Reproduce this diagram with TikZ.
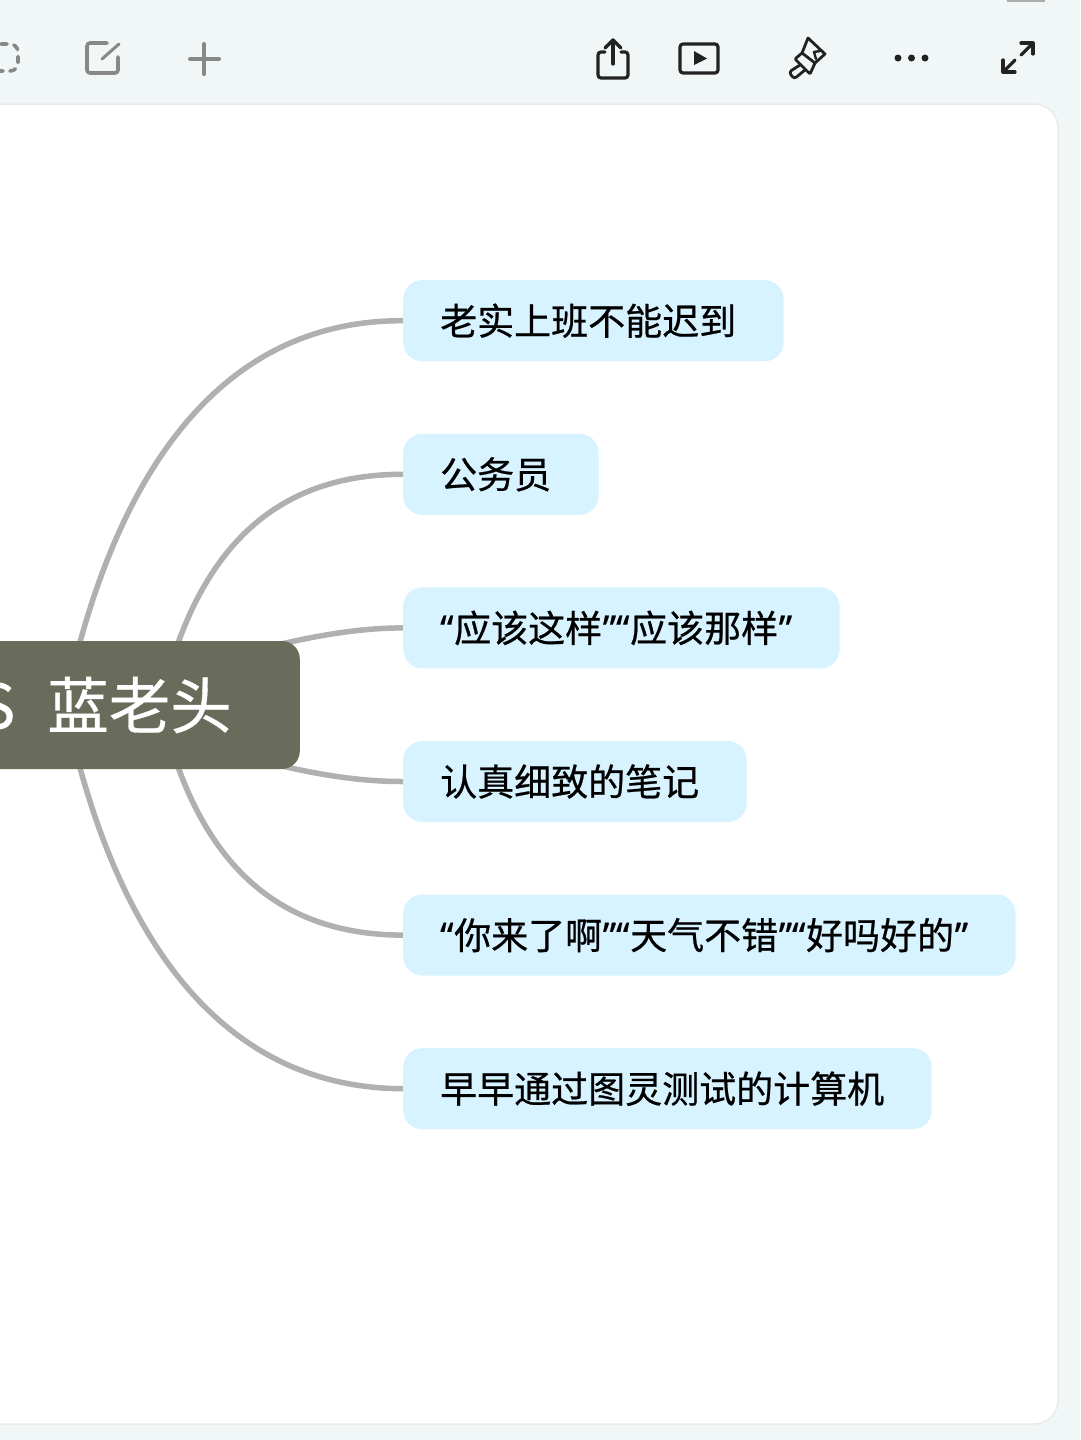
\documentclass[tikz,border=0pt]{standalone}
\usepackage{fontspec}
\setmainfont[FakeBold=0.6]{Noto Sans CJK SC}
\newfontfamily\quotefont[FakeBold=0.6]{Noto Sans}
\usetikzlibrary{positioning}
\definecolor{pagebg}{HTML}{F1F6F7}
\definecolor{rootfill}{HTML}{696C5A}
\definecolor{leaffill}{HTML}{D7F3FF}
\definecolor{edgegray}{HTML}{B0B0B0}
\definecolor{toolgray}{HTML}{888888}
\definecolor{tooldark}{HTML}{222222}
\pgfdeclarelayer{edges}
\pgfsetlayers{edges,main}
\newcommand{\ql}{{\quotefont “}\hspace{0.7pt}}
\newcommand{\qr}{\hspace{0.7pt}{\quotefont ”}}
\tikzset{
    x=1pt, y=-1pt,
    leaf/.style={fill=leaffill, rounded corners=19pt, font=\fontsize{37pt}{40pt}\selectfont, text=black,
        inner xsep=37pt, inner ysep=0pt, minimum height=81pt, execute at end node=\hspace{10.5pt}},
    root/.style={fill=rootfill, rounded corners=18pt, font=\fontsize{61.5pt}{66pt}\selectfont, text=white,
        inner xsep=0pt, inner ysep=0pt, minimum height=128pt, text width=470pt, align=right},
    edge/.style={draw=edgegray, line width=5.5pt},
    lighttool/.style={draw=toolgray, line width=3.6pt, line cap=round, line join=round},
    darktool/.style={draw=tooldark, line width=3.2pt, line cap=round, line join=round}
}
\begin{document}
\begin{tikzpicture}
    \useasboundingbox (0,0) rectangle (1080,1440);
    \clip (0,0) rectangle (1080,1440);

    \draw[lighttool, dash pattern=on 6pt off 7pt, rounded corners=8pt] (-12,44) -- (18,44) -- (18,71) -- (-12,71);
    \draw[lighttool, rounded corners=3pt] (107,43) -- (87,43) -- (87,73) -- (118,73) -- (118,57);
    \draw[lighttool, line width=3pt] (102,59) -- (119,44);
    \draw[lighttool, line width=4pt] (190,59) -- (219,59);
    \draw[lighttool, line width=4pt] (204,44) -- (204,74);

    \draw[darktool, rounded corners=3pt] (605,52) -- (598,52) -- (598,78) -- (628,78) -- (628,52) -- (621,52);
    \draw[darktool] (613,64) -- (613,40);
    \draw[darktool] (605,48) -- (613,40) -- (621,48);
    \draw[darktool, rounded corners=3pt] (680,44) rectangle (718,73);
    \fill[tooldark] (694,51) -- (707,58.5) -- (694,65) -- cycle;
    \draw[darktool, line width=2.8pt] (802,53) -- (808,38) -- (825,54) -- (815,63);
    \draw[darktool, line width=2.8pt, rounded corners=1pt] (802,53) -- (795,59) -- (810,74) -- (815,63) -- cycle;
    \draw[darktool, line width=2.8pt, rounded corners=3pt] (800,65) -- (789,72) -- (794,79) -- (805,70);
    \draw[darktool, line width=2.4pt] (816,59) -- (814,52) -- (820,51);
    \fill[tooldark] (898,58) circle[radius=3.5];
    \fill[tooldark] (911.5,58) circle[radius=3.5];
    \fill[tooldark] (925,58) circle[radius=3.5];
    \draw[darktool] (1021,55) -- (1033,43);
    \draw[darktool] (1021,43) -- (1033,43) -- (1033,54);
    \draw[darktool] (1003,72) -- (1015,60);
    \draw[darktool] (1003,60) -- (1003,72) -- (1015,72);

    \node[root, anchor=east] (root) at (300,705) {S\hspace{32pt}蓝老头\hspace*{68pt}};
    \node[leaf, anchor=north west] (1) at (403,280) {老实上班不能迟到};
    \node[leaf, below=72.2pt of 1.south west, anchor=north west] (2) {公务员};
    \node[leaf, below=72.2pt of 2.south west, anchor=north west] (3) {\ql 应该这样\qr\ql 应该那样\qr};
    \node[leaf, below=72.2pt of 3.south west, anchor=north west] (4) {认真细致的笔记};
    \node[leaf, below=72.2pt of 4.south west, anchor=north west] (5) {\ql 你来了啊\qr\ql 天气不错\qr\ql 好吗好的\qr};
    \node[leaf, below=72.2pt of 5.south west, anchor=north west] (6) {早早通过图灵测试的计算机};

    \begin{pgfonlayer}{edges}
        \fill[pagebg] (0,0) rectangle (1080,1440);
        \fill[toolgray!70] (1007,0) rectangle (1045,1.5);
        \fill[white, draw=black!8, line width=1.5pt, rounded corners=24pt] (-40,104) rectangle (1058,1424);
        \draw[edge] (root.center) .. controls (110,490) and (210,320) .. (1.west);
        \draw[edge] ([xshift=-140pt]root.east) .. controls (190,575) and (255,474) .. (2.west);
        \draw[edge] (root.center) .. controls (170,680) and (290,628) .. (3.west);
        \draw[edge] (root.center) .. controls (170,730) and (290,782) .. (4.west);
        \draw[edge] ([xshift=-140pt]root.east) .. controls (190,835) and (255,935) .. (5.west);
        \draw[edge] (root.center) .. controls (110,920) and (210,1088) .. (6.west);
    \end{pgfonlayer}
\end{tikzpicture}
\end{document}
